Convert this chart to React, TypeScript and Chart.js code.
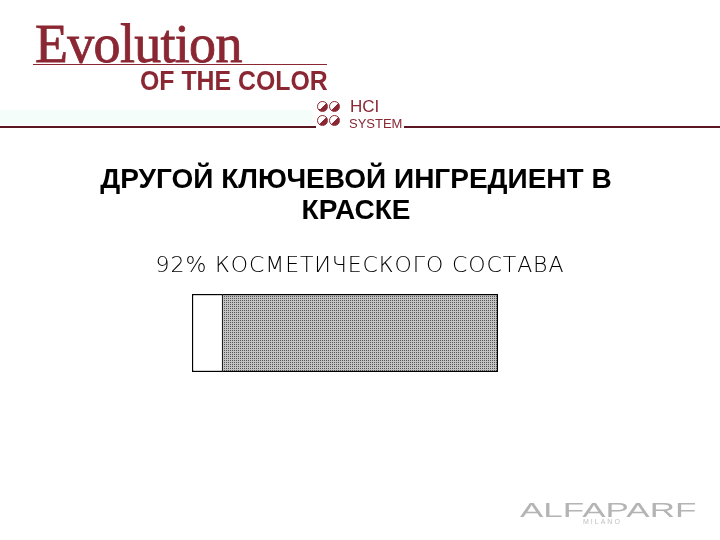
import React, { useEffect, useRef } from "react";
import { Chart, registerables } from "chart.js";

Chart.register(...registerables);

const categories = ["Состав"];
const otherShare = [10];
const cosmeticShare = [90];
const titleLine1 = "ДРУГОЙ КЛЮЧЕВОЙ ИНГРЕДИЕНТ В";
const titleLine2 = "КРАСКЕ";
const subtitle = "92% КОСМЕТИЧЕСКОГО СОСТАВА";

const MAROON = "#8a2733";

function makePattern(): CanvasPattern | string {
  const c = document.createElement("canvas");
  c.width = 2;
  c.height = 2;
  const ctx = c.getContext("2d");
  if (!ctx) return "#a0a0a0";
  ctx.fillStyle = "#c4c4c4";
  ctx.fillRect(0, 0, 2, 2);
  ctx.fillStyle = "#555555";
  ctx.fillRect(0, 0, 1, 1);
  const p = ctx.createPattern(c, "repeat");
  return p || "#a0a0a0";
}

const abs = (s: React.CSSProperties): React.CSSProperties => ({ position: "absolute", margin: 0, ...s });

function Circle({ x, y }: { x: number; y: number }) {
  return (
    <div
      style={abs({
        left: x,
        top: y,
        width: 9,
        height: 9,
        borderRadius: "50%",
        border: `1.5px solid ${MAROON}`,
        background: `linear-gradient(135deg, #ffffff 50%, ${MAROON} 50%)`,
      })}
    />
  );
}

export default function App() {
  const ref = useRef<HTMLCanvasElement | null>(null);
  useEffect(() => {
    if (!ref.current) return;
    const chart = new Chart(ref.current, {
      type: "bar",
      data: {
        labels: categories,
        datasets: [
          {
            data: otherShare,
            backgroundColor: "#ffffff",
            borderColor: "#000000",
            borderWidth: { left: 1.5, top: 1.5, bottom: 1.5, right: 1 } as any,
            borderSkipped: false,
            categoryPercentage: 1,
            barPercentage: 1,
          },
          {
            data: cosmeticShare,
            backgroundColor: makePattern() as any,
            borderColor: "#000000",
            borderWidth: { left: 0, top: 1.5, bottom: 1.5, right: 1.5 } as any,
            borderSkipped: false,
            categoryPercentage: 1,
            barPercentage: 1,
          },
        ],
      },
      options: {
        indexAxis: "y",
        animation: false,
        responsive: false,
        layout: { padding: { left: 192, right: 222, top: 294, bottom: 168 } },
        plugins: { legend: { display: false }, tooltip: { enabled: false }, title: { display: false } },
        scales: {
          x: { stacked: true, min: 0, max: 100, display: false },
          y: { stacked: true, display: false },
        },
      },
    });
    return () => chart.destroy();
  }, []);

  return (
    <div style={{ position: "fixed", left: 0, top: 0, width: 720, height: 540, background: "#fff", overflow: "hidden" }}>
      <canvas ref={ref} width={720} height={540} style={abs({ left: 0, top: 0, width: 720, height: 540 })} />
      {/* header logo */}
      <div style={abs({ left: 35, top: 14, fontFamily: "'Liberation Serif', 'DejaVu Serif', serif", fontSize: 54, lineHeight: "60px", color: MAROON, letterSpacing: -0.7, WebkitTextStroke: `0.8px ${MAROON}` })}>
        Evolution
      </div>
      <div style={abs({ left: 33, top: 64, width: 294, height: 1, background: MAROON })} />
      <div
        style={abs({
          left: 140,
          top: 67,
          fontFamily: "'Liberation Sans', Arial, sans-serif",
          fontWeight: 700,
          fontSize: 27,
          lineHeight: "28px",
          color: MAROON,
          transform: "scaleX(0.92)",
          transformOrigin: "left top",
          whiteSpace: "nowrap",
        })}
      >
        OF THE COLOR
      </div>
      <div style={abs({ left: 0, top: 110, width: 312, height: 15, background: "#f5fdfa" })} />
      <div style={abs({ left: 0, top: 126, width: 316, height: 2, background: "#5a1722" })} />
      <div style={abs({ left: 404, top: 126, width: 316, height: 2, background: "#5a1722" })} />
      <Circle x={317} y={101} />
      <Circle x={329} y={101} />
      <Circle x={317} y={115} />
      <Circle x={329} y={115} />
      <div style={abs({ left: 350, top: 98, fontFamily: "'Liberation Sans', Arial, sans-serif", fontSize: 17, lineHeight: "18px", color: MAROON })}>HCI</div>
      <div style={abs({ left: 349, top: 117, fontFamily: "'Liberation Sans', Arial, sans-serif", fontSize: 13, lineHeight: "14px", color: MAROON })}>SYSTEM</div>
      {/* titles */}
      <div style={abs({ left: 0, top: 163, width: 712, textAlign: "center", fontFamily: "'Liberation Sans', Arial, sans-serif", fontWeight: 700, fontSize: 28, lineHeight: "31px", color: "#000" })}>
        {titleLine1}
        <br />
        {titleLine2}
      </div>
      <div style={abs({ left: 0, top: 251, width: 720, textAlign: "center", fontFamily: "'DejaVu Sans', sans-serif", fontWeight: 200, fontSize: 22, lineHeight: "28px", color: "#000", letterSpacing: 0.9 })}>
        {subtitle}
      </div>
      {/* footer logo */}
      <div
        style={abs({
          left: 520,
          top: 500,
          fontFamily: "'Liberation Sans', Arial, sans-serif",
          fontSize: 20,
          lineHeight: "20px",
          color: "#b4b4b4",
          transform: "scaleX(1.75)",
          transformOrigin: "left top",
          whiteSpace: "nowrap",
        })}
      >
        ALFAPARF
      </div>
      <div style={abs({ left: 583, top: 518, fontFamily: "'Liberation Sans', Arial, sans-serif", fontSize: 7, lineHeight: "8px", color: "#c0c0c0", letterSpacing: 2 })}>
        MILANO
      </div>
    </div>
  );
}
